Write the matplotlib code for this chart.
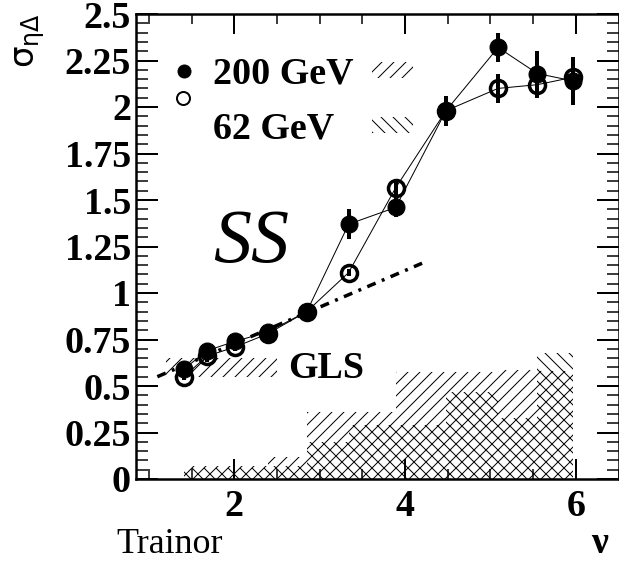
import matplotlib
matplotlib.use('Agg')
import matplotlib.pyplot as plt
from matplotlib.ticker import MultipleLocator, FuncFormatter
from matplotlib.patches import Rectangle

# centrality (nu) and sigma_eta_delta for the two energies
nu = [1.41, 1.68, 2.01, 2.39, 2.85, 3.34, 3.89, 4.48, 5.09, 5.55, 5.97]
sig_200 = [0.59, 0.69, 0.74, 0.79, 0.90, 1.37, 1.46, 1.98, 2.32, 2.18, 2.14]
err_200 = [0.03, 0.04, 0.03, 0.03, 0.03, 0.08, 0.05, 0.08, 0.08, 0.12, 0.13]
sig_62 = [0.55, 0.66, 0.71, 0.78, 0.90, 1.11, 1.565, 1.98, 2.10, 2.12, 2.16]
err_62 = [0.02, 0.03, 0.02, 0.02, 0.03, 0.02, 0.05, 0.08, 0.08, 0.07, 0.08]

# systematic errors drawn as step histograms between the points
sys_200 = [0.07, 0.07, 0.07, 0.12, 0.36, 0.36, 0.575, 0.575, 0.585, 0.58]
sys_62 = [0.06, 0.06, 0.06, 0.07, 0.20, 0.29, 0.29, 0.47, 0.33, 0.68]

# GLS reference line and its band
gls_x = [1.1, 4.2]
gls_y = [0.55, 1.16]
gls_band_x = [1.2, 2.5]
gls_band_lo = [0.55, 0.55]
gls_band_hi = [0.65, 0.65]

plt.rcParams['font.family'] = ['Liberation Serif', 'DejaVu Serif']
plt.rcParams['hatch.linewidth'] = 1.0

DPI = 72
fig = plt.figure(figsize=(619 / DPI, 564 / DPI), dpi=DPI)
ax = fig.add_axes([136 / 619, 85 / 564, 482.5 / 619, 465 / 564])

# systematics
ax.stairs(sys_200, nu, baseline=0, fill=True, facecolor='none',
          edgecolor='black', hatch='//', linewidth=0, zorder=1)
ax.stairs(sys_62, nu, baseline=0, fill=True, facecolor='none',
          edgecolor='black', hatch='\\\\', linewidth=0, zorder=1)
ax.fill_between(gls_band_x, gls_band_lo, gls_band_hi, facecolor='none',
                edgecolor='black', hatch='//', linewidth=0, zorder=1)

# GLS trend
ax.plot(gls_x, gls_y, color='black', lw=3.5, dashes=(2.6, 1.9, 0.85, 1.9), zorder=3)

# data
ax.plot(nu, sig_200, color='black', lw=1, zorder=4)
ax.plot(nu, sig_62, color='black', lw=1, zorder=4)
ax.errorbar(nu, sig_200, yerr=err_200, fmt='o', color='black', ms=17,
            elinewidth=4, capsize=0, zorder=5)
ax.errorbar(nu, sig_62, yerr=err_62, fmt='o', mfc='none', mec='black', mew=3.5,
            ms=16, ecolor='black', elinewidth=4, capsize=0, zorder=5)

ax.set_xlim(0.85, 6.5)
ax.set_ylim(0, 2.5)

# legend drawn by hand
ax.plot([0.1], [0.877], 'o', color='black', ms=13, transform=ax.transAxes)
ax.plot([0.098], [0.819], 'o', mfc='white', mec='black', mew=2, ms=13,
        transform=ax.transAxes)
ax.text(0.1596, 0.8516, '200 GeV', fontsize=38, fontweight='bold',
        va='baseline', transform=ax.transAxes)
ax.text(0.1596, 0.7333, '62 GeV', fontsize=38, fontweight='bold',
        va='baseline', transform=ax.transAxes)
ax.add_patch(Rectangle((0.489, 0.862), 0.085, 0.035, transform=ax.transAxes,
                       facecolor='none', edgecolor='black', hatch='//', linewidth=0))
ax.add_patch(Rectangle((0.489, 0.744), 0.085, 0.035, transform=ax.transAxes,
                       facecolor='none', edgecolor='black', hatch='\\\\', linewidth=0))

ax.text(0.238, 0.467, 'SS', fontsize=76, fontstyle='italic', ha='center',
        va='baseline', transform=ax.transAxes)
ax.text(0.315, 0.217, 'GLS', fontsize=38, fontweight='bold', va='baseline',
        transform=ax.transAxes)

# axes style
for s in ax.spines.values():
    s.set_linewidth(2.5)
ax.xaxis.set_major_locator(MultipleLocator(2))
ax.xaxis.set_minor_locator(MultipleLocator(0.5))
ax.yaxis.set_major_locator(MultipleLocator(0.25))
ax.yaxis.set_minor_locator(MultipleLocator(0.05))
ax.yaxis.set_major_formatter(FuncFormatter(lambda v, p: '%g' % v))
ax.tick_params(which='both', direction='in', top=True, right=True)
ax.tick_params(axis='x', which='major', length=20, width=2, pad=10)
ax.tick_params(axis='x', which='minor', length=10, width=1.5)
ax.tick_params(axis='y', which='major', length=22, width=2, pad=5)
ax.tick_params(axis='y', which='minor', length=12, width=1.5)
for lab in ax.get_xticklabels() + ax.get_yticklabels():
    lab.set_fontsize(38)
    lab.set_fontweight('bold')

fig.text(30 / 619, 1 - 13 / 564, r'$\mathregular{\sigma_{\eta\Delta}}$',
         fontsize=34, family='DejaVu Sans', rotation=90, ha='center', va='top')
fig.text(116 / 619, 1 - 553 / 564, 'Trainor', fontsize=36, va='baseline')
fig.text(600 / 619, 1 - 553 / 564, 'ν', fontsize=38, fontweight='bold',
         ha='center', va='baseline')

fig.savefig('out.png', dpi=DPI)
